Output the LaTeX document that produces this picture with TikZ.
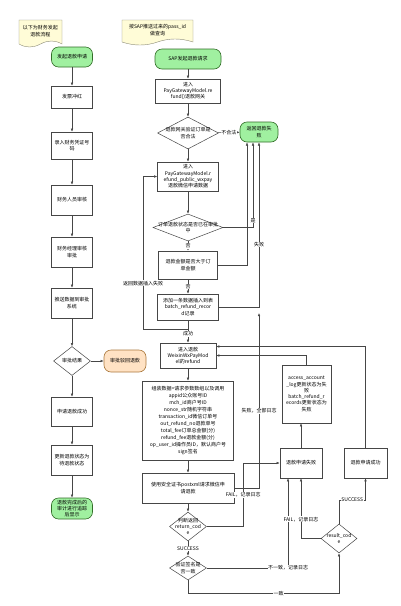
\documentclass[tikz,border=0pt]{standalone}
\usepackage{fontspec}
\setmainfont{Noto Sans CJK SC}
\usetikzlibrary{shapes.geometric,arrows.meta,backgrounds}
\definecolor{termgreen}{RGB}{160,240,160}
\definecolor{termedge}{RGB}{50,110,40}
\definecolor{rejfill}{RGB}{255,226,196}
\definecolor{rejedge}{RGB}{170,120,60}
\definecolor{notefill}{RGB}{255,252,215}
\definecolor{noteedge}{RGB}{140,140,120}
\definecolor{linegray}{RGB}{70,70,70}
\tikzset{
  every node/.style={font=\fontsize{5}{6.3}\selectfont, align=center, inner sep=1pt},
  box/.style={draw=linegray, fill=white, line width=0.5pt, minimum width=41pt, minimum height=30pt},
  term/.style={draw=termedge, fill=termgreen, line width=0.6pt, rounded corners=7pt, minimum width=41pt, minimum height=20pt},
  reject/.style={term, draw=rejedge, fill=rejfill},
  decision/.style={diamond, draw=linegray, fill=white, line width=0.5pt, inner sep=0pt},
  notebg/.style={draw=noteedge, fill=notefill, line width=0.4pt},
  flow/.style={draw=linegray, line width=0.5pt, -{Latex[length=3.2pt,width=2.6pt]}},
  wire/.style={draw=linegray, line width=0.5pt},
  lbl/.style={fill=white, inner sep=0.5pt}
}
\begin{document}
\begin{tikzpicture}[x=1pt,y=-1pt]
\path[use as bounding box, fill=white] (0,0) rectangle (400,606);

\filldraw[notebg] (19,20) -- (62,20) -- (62,44) .. controls (55,40) and (48,40) .. (40.5,44) .. controls (33,48) and (26,48) .. (19,44) -- cycle;
\node (lnote) at (40.5,31) {以下为财务发起\\退款流程};
\filldraw[notebg] (122,20) -- (193,20) -- (193,42) .. controls (181,38) and (169,38) .. (157.5,42) .. controls (146,46) and (134,46) .. (122,42) -- cycle;
\node (rnote) at (157.5,30) {按SAP推送过来的pass\_id\\做查询};

% left column
\node[term] (lstart) at (72,57) {发起退款申请};
\node[box, minimum height=22pt] (l1) at (72,97) {发票冲红};
\node[box, minimum height=27pt] (l2) at (72,145.5) {录入财务凭证号\\码};
\node[box] (l3) at (72,200) {财务人员审核};
\node[box] (l4) at (72,252) {财务经理审核\\审批};
\node[box] (l5) at (72,303) {推送数据到审批\\系统};
\node[decision, minimum width=37pt, minimum height=29pt] (ldec) at (72,361) {};
\node (ldect) at (ldec) {审批结果};
\node[reject, minimum width=42pt, minimum height=22pt] (lrej) at (125,361) {审批驳回退款};
\node[box, minimum height=29pt] (l6) at (72,411.5) {申请退款成功};
\node[box] (l7) at (72,460) {更新退款状态为\\待退款状态};
\node[term, minimum height=21pt] (lend) at (72,508.5) {退款完成后的\\审计进行追踪\\后显示};

\foreach \a/\b in {lstart/l1, l1/l2, l2/l3, l3/l4, l4/l5, l5/ldec, ldec/l6, l6/l7, l7/lend}
  \draw[flow] (\a) -- (\b);
\draw[flow] (ldec) -- (lrej);

% right column
\node[term, minimum width=66pt] (rstart) at (188,59) {SAP发起退款请求};
\node[box, minimum width=65pt, minimum height=24pt] (r1) at (188,91) {进入\\PayGatewayModel.re\\fund()退款网关};
\node[decision, minimum width=61pt, minimum height=32pt] (rd1) at (188,133) {};
\node (rd1t) at (rd1) {退款网关验证订单是\\否合法};
\node[term, minimum width=38pt] (rfail) at (259,132) {返回退款失\\败};
\node[box, minimum width=61pt, minimum height=29pt] (r2) at (188,176.5) {进入\\PayGatewayModel.r\\efund\_public\_wxpay\\退款微信申请数据};
\node[decision, minimum width=70pt, minimum height=27pt] (rd2) at (188,227.5) {};
\node (rd2t) at (rd2) {订单退款状态是否已在审批\\中};
\node[box, minimum width=59pt, minimum height=28pt] (r3) at (188,265) {退款金额是否大于订\\单金额};
\node[box, minimum width=61pt, minimum height=26pt] (r4) at (188,307) {添加一条数据插入到表\\batch\_refund\_recor\\d记录};
\node[box, minimum width=56pt, minimum height=25pt] (r5) at (188,355.5) {进入退款\\WeixinWxPayMod\\el的refund};
\node[box, minimum width=91pt, minimum height=79pt, font=\fontsize{5}{7}\selectfont] (r6) at (188,420.5) {组装数据=请求参数数组以及调用\\appid公众账号ID\\mch\_id商户号ID\\nonce\_str随机字符串\\transaction\_id微信订单号\\out\_refund\_no退款单号\\total\_fee订单总金额(分)\\refund\_fee退款金额(分)\\op\_user\_id操作员ID，默认商户号\\sign签名};
\node[box, minimum width=92pt] (r7) at (188,488) {使用安全证书postxml请求微信申\\请退款};
\node[decision, minimum width=37pt, minimum height=29pt] (rd3) at (188,526.5) {};
\node (rd3t) at (rd3) {判断返回\\return\_cod\\e};
\node[decision, minimum width=37pt, minimum height=24pt] (rd4) at (188,568) {};
\node (rd4t) at (rd4) {验证签名是\\否一致};
\node[box, minimum width=42pt] (rlog) at (301,463) {退款申请失败};
\node[box, minimum width=43pt] (rok) at (365.5,463) {退款申请成功};
\node[decision, minimum width=36pt, minimum height=29pt] (rd5) at (339,538.5) {};
\node (rd5t) at (rd5) {result\_cod\\e};
\node[box, minimum width=49pt, minimum height=58pt] (racc) at (306.5,394) {access\_account\\\_log更新状态为失\\败\\batch\_refund\_r\\ecords更新状态为\\失败};

\foreach \a/\b in {rstart/r1, r1/rd1, rd1/r2, r2/rd2, r5/r6, r6/r7, r7/rd3}
  \draw[flow] (\a) -- (\b);
\draw[flow] (rd1) -- node[lbl]{不合法} (rfail);
\draw[flow] (rd2) -- node[lbl]{否} (r3);
\draw[flow] (r3) -- node[lbl]{否} (r4);
\draw[flow] (rd3) -- node[lbl]{SUCCESS} (rd4);

\coordinate (jn) at (188,329);
\coordinate (loopc) at (143,329);
\draw[wire] (r4) -- (jn);
\draw[flow] (jn) -- node[lbl, pos=0.35]{成功} (r5);
\draw[flow] (jn) -- (loopc) -- node[lbl, pos=0.3]{返回数据插入失败} (loopc |- r2.west) -- (r2.west);

\draw[flow] (rd2.east) -| node[lbl, pos=0.54]{是} ([xshift=-6pt]rfail.south);
\draw[flow] (r3.east) -| ([xshift=-12pt]rfail.south);
\draw[flow] (r4.east) -| node[lbl, pos=0.69]{失败} (rfail.south);
\coordinate (jf) at (259,313);
\draw[flow] (r7.east) -| node[lbl, pos=0.72]{失败，全部日志} (jf);

\draw[flow] (rd3.east) -- ++(36.5,0) |- node[lbl, pos=0.25]{FAIL，记录日志} (rlog.west);
\draw[flow] (rd4.east) -| node[lbl, pos=0.5]{不一致，记录日志} ([xshift=-13pt]rlog.south);
\draw[flow] (rd5.west) -| node[lbl, pos=0.66]{FAIL，记录日志} (rlog.south);
\draw[flow] (rd4.south) -- ++(0,13) -| node[lbl, pos=0.3]{一致} (rd5.south);
\draw[flow] (rd5.north) -- ++(0,-24) -| node[lbl, pos=0.25]{SUCCESS} (rok.south);
\draw[flow] (rlog.north) -- (rlog.north |- racc.south);
\draw[flow] (racc.north) |- (r5.east);
\draw[flow] (rok.north) |- ([yshift=9pt]r5.east);
\end{tikzpicture}
\end{document}
